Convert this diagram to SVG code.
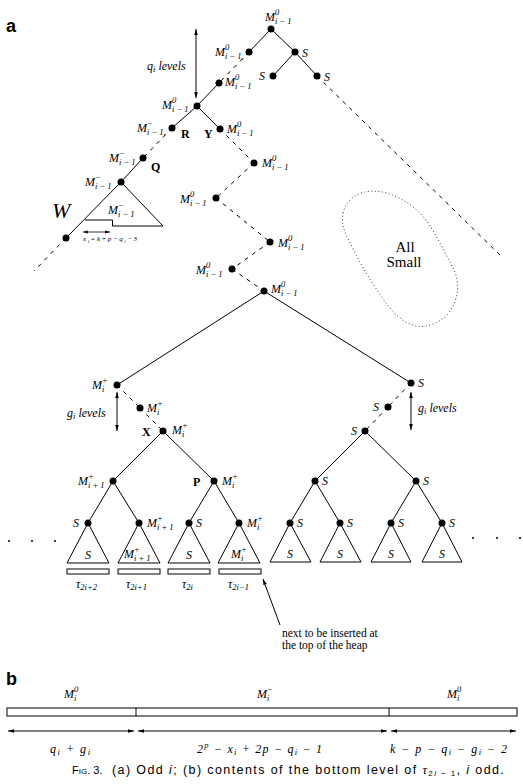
<svg xmlns="http://www.w3.org/2000/svg" width="523" height="784" viewBox="0 0 523 784">
<defs>
<marker id="ah" viewBox="0 0 10 10" refX="10" refY="5" markerWidth="6" markerHeight="6" orient="auto-start-reverse"><path d="M0,2 L10,5 L0,8 z" fill="#000"/></marker>
<style>
.ln{stroke:#000;stroke-width:1;fill:none}
.ds{stroke:#000;stroke-width:1;stroke-dasharray:4 5;fill:none}
.ar{stroke:#000;stroke-width:1;fill:none;marker-start:url(#ah);marker-end:url(#ah)}
.tri{stroke:#000;stroke-width:1;fill:#fff}
.t{font-family:"Liberation Serif",serif;font-style:italic;font-size:12px}
.s{font-family:"Liberation Serif",serif;font-style:italic;font-size:8.5px}
.b{font-family:"Liberation Serif",serif;font-weight:bold;font-size:12px}
.r{font-family:"Liberation Serif",serif;font-size:12px}
.hd{font-family:"Liberation Sans",sans-serif;font-weight:bold;font-size:18px}
.cap{font-family:"Liberation Sans",sans-serif;font-size:12.5px;letter-spacing:1.4px}
</style>
</defs>
<rect width="523" height="784" fill="#fff"/>
<text class="hd" x="6" y="32">a</text>

<g id="connectors">
<line class="ln" x1="271" y1="29" x2="249" y2="52"/>
<line class="ln" x1="271" y1="29" x2="295" y2="52"/>
<line class="ln" x1="295" y1="52" x2="273" y2="76"/>
<line class="ln" x1="295" y1="52" x2="317" y2="76"/>
<line class="ds" x1="317" y1="76" x2="502" y2="257"/>
<line class="ds" x1="249" y1="52" x2="219" y2="83"/>
<line class="ln" x1="219" y1="83" x2="197" y2="106"/>
<line class="ln" x1="197" y1="106" x2="172" y2="128"/>
<line class="ln" x1="197" y1="106" x2="220" y2="129"/>
<line class="ds" x1="172" y1="128" x2="143" y2="158"/>
<line class="ln" x1="143" y1="158" x2="121" y2="182"/>
<line class="ln" x1="121" y1="182" x2="66" y2="238"/>
<line class="ds" x1="66" y1="238" x2="34" y2="271"/>
<line class="ds" x1="220" y1="129" x2="254" y2="163"/>
<line class="ds" x1="254" y1="163" x2="216" y2="198"/>
<line class="ds" x1="216" y1="198" x2="270" y2="242"/>
<line class="ds" x1="270" y1="242" x2="232" y2="269"/>
<line class="ds" x1="232" y1="269" x2="264" y2="291"/>
<line class="ln" x1="264" y1="291" x2="117" y2="385"/>
<line class="ln" x1="264" y1="291" x2="411" y2="383"/>
<line class="ds" x1="117" y1="385" x2="140" y2="408"/>
<line class="ds" x1="140" y1="408" x2="163" y2="431"/>
<line class="ln" x1="163" y1="431" x2="113" y2="481"/>
<line class="ln" x1="163" y1="431" x2="214" y2="481"/>
<line class="ln" x1="113" y1="481" x2="88" y2="523"/>
<line class="ln" x1="113" y1="481" x2="139" y2="523"/>
<line class="ln" x1="214" y1="481" x2="189" y2="523"/>
<line class="ln" x1="214" y1="481" x2="239" y2="523"/>
<line class="ds" x1="411" y1="383" x2="388" y2="407"/>
<line class="ds" x1="388" y1="407" x2="365" y2="431"/>
<line class="ln" x1="365" y1="431" x2="315" y2="481"/>
<line class="ln" x1="365" y1="431" x2="416" y2="481"/>
<line class="ln" x1="315" y1="481" x2="290" y2="523"/>
<line class="ln" x1="315" y1="481" x2="340" y2="523"/>
<line class="ln" x1="416" y1="481" x2="391" y2="523"/>
<line class="ln" x1="416" y1="481" x2="442" y2="523"/>
<line class="ar" x1="196" y1="29" x2="196" y2="98"/>
<line class="ar" x1="117" y1="392" x2="117" y2="431"/>
<line class="ar" x1="411" y1="392" x2="411" y2="430"/>
<line class="ln" x1="280" y1="625" x2="263" y2="579" style="marker-end:url(#ah)"/>
</g>

<text class="t" x="147" y="70">q<tspan class="s" dy="2">i</tspan><tspan class="r" dy="-2"> levels</tspan></text>
<text class="t" x="67" y="417">g<tspan class="s" dy="2">i</tspan><tspan class="r" dy="-2"> levels</tspan></text>
<text class="t" x="418" y="412">g<tspan class="s" dy="2">i</tspan><tspan class="r" dy="-2"> levels</tspan></text>

<g id="W">
<path class="ln" d="M121,182 L163,226 L112.5,226 L112.5,220 L85,220"/>
<text class="t" x="108" y="214">M</text><text class="s" x="118" y="208">−</text><text class="s" x="118" y="217">i − 1</text>
<text class="t" x="52" y="218" style="font-size:22px">W</text>
<line x1="83" y1="232" x2="110" y2="232" stroke="#000" stroke-width="0.8" style="marker-start:url(#ah);marker-end:url(#ah)"/>
<text class="t" x="83" y="241" style="font-size:7px" textLength="54" lengthAdjust="spacing">x<tspan dy="1.5" style="font-size:5px">i</tspan><tspan dy="-1.5">=k+p−q</tspan><tspan dy="1.5" style="font-size:5px">i</tspan><tspan dy="-1.5">−3</tspan></text>
</g>

<g id="allsmall">
<path d="M343,213 C348,192 372,185 397,197 C415,206 425,215 440,243 L455,272 C462,290 455,318 430,325 C415,330 402,322 390,308 C372,285 355,255 345,232 C342,225 342,219 343,213 Z" fill="none" stroke="#000" stroke-width="0.8" stroke-dasharray="1 2.5"/>
<text class="r" x="405" y="252" text-anchor="middle" style="font-size:15px">All</text>
<text class="r" x="404" y="267" text-anchor="middle" style="font-size:15px">Small</text>
</g>

<g id="n1"><circle cx="271" cy="29" r="3.5"/><text class="t" x="265" y="21">M</text><text class="s" x="275" y="15">0</text><text class="s" x="275" y="24">i − 1</text></g>
<g id="n2"><circle cx="249" cy="52" r="3.5"/><text class="t" x="215" y="56">M</text><text class="s" x="225" y="50">0</text><text class="s" x="225" y="59">i − 1,</text></g>
<g id="n3"><circle cx="295" cy="52" r="3.5"/><text class="t" x="302" y="57">S</text></g>
<g id="n4"><circle cx="273" cy="76" r="3.5"/><text class="t" x="259" y="80">S</text></g>
<g id="n5"><circle cx="317" cy="76" r="3.5"/><text class="t" x="324" y="81">S</text></g>
<g id="n6"><circle cx="219" cy="83" r="3.5"/><text class="t" x="225" y="86">M</text><text class="s" x="235" y="80">0</text><text class="s" x="235" y="89">i − 1</text></g>
<g id="n7"><circle cx="197" cy="106" r="3.5"/><text class="t" x="162" y="109">M</text><text class="s" x="172" y="103">0</text><text class="s" x="172" y="112">i − 1</text></g>
<g id="n8"><circle cx="172" cy="128" r="3.5"/><text class="t" x="137" y="132">M</text><text class="s" x="147" y="126">−</text><text class="s" x="147" y="135">i − 1,</text><text class="b" x="181" y="138">R</text></g>
<g id="n9"><circle cx="220" cy="129" r="3.5"/><text class="b" x="204" y="138">Y</text><text class="t" x="227" y="133">M</text><text class="s" x="237" y="127">0</text><text class="s" x="237" y="136">i − 1</text></g>
<g id="n10"><circle cx="143" cy="158" r="3.5"/><text class="t" x="109" y="162">M</text><text class="s" x="119" y="156">−</text><text class="s" x="119" y="165">i − 1</text><text class="b" x="151" y="171">Q</text></g>
<g id="n11"><circle cx="121" cy="182" r="3.5"/><text class="t" x="85" y="186">M</text><text class="s" x="95" y="180">−</text><text class="s" x="95" y="189">i − 1</text></g>
<g id="n12"><circle cx="66" cy="238" r="3.5"/></g>
<g id="n13"><circle cx="254" cy="163" r="3.5"/><text class="t" x="262" y="167">M</text><text class="s" x="272" y="161">0</text><text class="s" x="272" y="170">i − 1</text></g>
<g id="n14"><circle cx="216" cy="198" r="3.5"/><text class="t" x="180" y="203">M</text><text class="s" x="190" y="197">0</text><text class="s" x="190" y="206">i − 1</text></g>
<g id="n15"><circle cx="270" cy="242" r="3.5"/><text class="t" x="278" y="247">M</text><text class="s" x="288" y="241">0</text><text class="s" x="288" y="250">i − 1</text></g>
<g id="n16"><circle cx="232" cy="269" r="3.5"/><text class="t" x="196" y="274">M</text><text class="s" x="206" y="268">0</text><text class="s" x="206" y="277">i − 1</text></g>
<g id="n17"><circle cx="264" cy="291" r="3.5"/><text class="t" x="271" y="293">M</text><text class="s" x="281" y="287">0</text><text class="s" x="281" y="296">i − 1</text></g>

<g id="n18"><circle cx="117" cy="385" r="3.5"/><text class="t" x="92" y="389">M</text><text class="s" x="102" y="383">+</text><text class="s" x="102" y="392">i</text></g>
<g id="n19"><circle cx="140" cy="408" r="3.5"/><text class="t" x="147" y="412">M</text><text class="s" x="157" y="406">+</text><text class="s" x="157" y="415">i</text></g>
<g id="n20"><circle cx="163" cy="431" r="3.5"/><text class="b" x="142" y="436">X</text><text class="t" x="172" y="434">M</text><text class="s" x="182" y="428">+</text><text class="s" x="182" y="437">i</text></g>
<g id="n21"><circle cx="113" cy="481" r="3.5"/><text class="t" x="78" y="485">M</text><text class="s" x="88" y="479">+</text><text class="s" x="88" y="488">i + 1</text></g>
<g id="n22"><circle cx="214" cy="481" r="3.5"/><text class="b" x="193" y="486">P</text><text class="t" x="222" y="485">M</text><text class="s" x="232" y="479">+</text><text class="s" x="232" y="488">i</text></g>
<g id="n23"><polygon class="tri" points="88,523 67,563 109,563"/><circle cx="88" cy="523" r="3.5"/><text class="t" x="73" y="527">S</text><text class="t" x="88" y="559" text-anchor="middle">S</text></g>
<g id="n24"><polygon class="tri" points="139,523 118,563 160,563"/><circle cx="139" cy="523" r="3.5"/><text class="t" x="147" y="527">M</text><text class="s" x="157" y="521">+</text><text class="s" x="157" y="530">i + 1</text><text class="t" x="124" y="558">M</text><text class="s" x="134" y="552">+</text><text class="s" x="134" y="561">i + 1</text></g>
<g id="n25"><polygon class="tri" points="189,523 168,563 210,563"/><circle cx="189" cy="523" r="3.5"/><text class="t" x="196" y="527">S</text><text class="t" x="189" y="559" text-anchor="middle">S</text></g>
<g id="n26"><polygon class="tri" points="239,523 218,563 260,563"/><circle cx="239" cy="523" r="3.5"/><text class="t" x="247" y="527">M</text><text class="s" x="257" y="521">+</text><text class="s" x="257" y="530">i</text><text class="t" x="231" y="558">M</text><text class="s" x="241" y="552">+</text><text class="s" x="241" y="561">i</text></g>

<g id="blocks">
<rect x="67" y="569" width="42" height="5" fill="#fff" stroke="#000"/>
<rect x="118" y="569" width="42" height="5" fill="#fff" stroke="#000"/>
<rect x="168" y="569" width="42" height="5" fill="#fff" stroke="#000"/>
<rect x="219" y="569" width="42" height="5" fill="#fff" stroke="#000"/>
<text class="t" x="76" y="588">τ<tspan class="s" dy="2">2i+2</tspan></text>
<text class="t" x="126" y="588">τ<tspan class="s" dy="2">2i+1</tspan></text>
<text class="t" x="182" y="588">τ<tspan class="s" dy="2">2i</tspan></text>
<text class="t" x="228" y="588">τ<tspan class="s" dy="2">2i−1</tspan></text>
</g>

<g id="n27"><circle cx="411" cy="383" r="3.5"/><text class="t" x="418" y="387">S</text></g>
<g id="n28"><circle cx="388" cy="407" r="3.5"/><text class="t" x="373" y="411">S</text></g>
<g id="n29"><circle cx="365" cy="431" r="3.5"/><text class="t" x="351" y="435">S</text></g>
<g id="n30"><circle cx="315" cy="481" r="3.5"/><text class="t" x="322" y="485">S</text></g>
<g id="n31"><circle cx="416" cy="481" r="3.5"/><text class="t" x="423" y="485">S</text></g>
<g id="n32"><polygon class="tri" points="290,523 270,562 311,562"/><circle cx="290" cy="523" r="3.5"/><text class="t" x="297" y="527">S</text><text class="t" x="290" y="558" text-anchor="middle">S</text></g>
<g id="n33"><polygon class="tri" points="340,523 320,562 361,562"/><circle cx="340" cy="523" r="3.5"/><text class="t" x="347" y="527">S</text><text class="t" x="340" y="558" text-anchor="middle">S</text></g>
<g id="n34"><polygon class="tri" points="391,523 371,562 411,562"/><circle cx="391" cy="523" r="3.5"/><text class="t" x="398" y="527">S</text><text class="t" x="391" y="558" text-anchor="middle">S</text></g>
<g id="n35"><polygon class="tri" points="442,523 422,562 462,562"/><circle cx="442" cy="523" r="3.5"/><text class="t" x="449" y="527">S</text><text class="t" x="442" y="558" text-anchor="middle">S</text></g>

<g id="dots">
<circle cx="9" cy="541" r="1"/><circle cx="32" cy="541" r="1"/><circle cx="55" cy="541" r="1"/>
<circle cx="473" cy="538" r="1"/><circle cx="497" cy="538" r="1"/><circle cx="520" cy="538" r="1"/>
</g>

<text class="r" x="282" y="637" style="font-size:11.5px">next to be inserted at</text>
<text class="r" x="282" y="649" style="font-size:11.5px">the top of the heap</text>

<g id="partb">
<text class="hd" x="6" y="685">b</text>
<rect x="7" y="708" width="510" height="8" fill="#fff" stroke="#000"/>
<line class="ln" x1="136" y1="708" x2="136" y2="716"/>
<line class="ln" x1="389" y1="708" x2="389" y2="716"/>
<text class="t" x="64" y="698">M</text><text class="s" x="74" y="692">0</text><text class="s" x="74" y="701">i</text>
<text class="t" x="257" y="698">M</text><text class="s" x="267" y="692">−</text><text class="s" x="267" y="701">i</text>
<text class="t" x="447" y="698">M</text><text class="s" x="457" y="692">0</text><text class="s" x="457" y="701">i</text>
<line class="ar" x1="8" y1="731" x2="134" y2="731"/>
<line class="ar" x1="138" y1="731" x2="387" y2="731"/>
<line class="ar" x1="391" y1="731" x2="516" y2="731"/>
<text class="t" x="50" y="753" textLength="40" lengthAdjust="spacing">q<tspan class="s" dy="2">i</tspan><tspan dy="-2"> + g</tspan><tspan class="s" dy="2">i</tspan></text>
<text class="t" x="197" y="753" textLength="125" lengthAdjust="spacing"><tspan class="r">2</tspan><tspan class="s" dy="-5">p</tspan><tspan class="r" dy="5"> − </tspan>x<tspan class="s" dy="2">i</tspan><tspan class="r" dy="-2"> + 2</tspan>p<tspan class="r"> − </tspan>q<tspan class="s" dy="2">i</tspan><tspan class="r" dy="-2"> − 1</tspan></text>
<text class="t" x="390" y="753" textLength="117" lengthAdjust="spacing">k<tspan class="r"> − </tspan>p<tspan class="r"> − </tspan>q<tspan class="s" dy="2">i</tspan><tspan class="r" dy="-2"> − </tspan>g<tspan class="s" dy="2">i</tspan><tspan class="r" dy="-2"> − 2</tspan></text>
</g>

<text class="cap" x="72" y="774" style="letter-spacing:0;font-size:11px">F<tspan style="font-size:8px">IG</tspan>. 3.</text>
<text class="cap" x="112" y="774">(a) Odd <tspan font-style="italic">i</tspan>; (b) contents of the bottom level of <tspan font-family="Liberation Serif, serif" font-style="italic">τ</tspan><tspan font-size="8px" dy="2">2<tspan font-style="italic">i</tspan> − 1</tspan><tspan dy="-2">, </tspan><tspan font-style="italic">i</tspan> odd.</text>
</svg>
